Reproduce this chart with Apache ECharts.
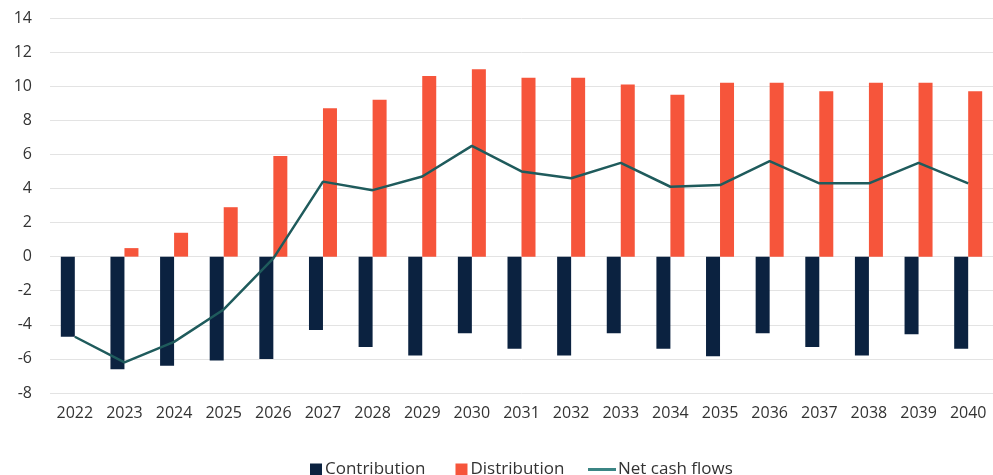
<!DOCTYPE html>
<html>
<head>
<meta charset="utf-8">
<script src="https://cdn.jsdelivr.net/npm/echarts@6/dist/echarts.min.js"></script>
<style>
  html, body { margin: 0; padding: 0; background: #fff; }
  #chart { width: 993px; height: 475px; }
</style>
</head>
<body>
<div id="chart"></div>
<script>
// Annual fund cash flows, 2022-2040
const years = ['2022','2023','2024','2025','2026','2027','2028','2029','2030','2031',
               '2032','2033','2034','2035','2036','2037','2038','2039','2040'];
const contribution = [-4.7, -6.6, -6.4, -6.1, -6.0, -4.3, -5.3, -5.8, -4.5, -5.4,
                      -5.8, -4.5, -5.4, -5.85, -4.5, -5.3, -5.8, -4.55, -5.4];
const distribution = [0, 0.5, 1.4, 2.9, 5.9, 8.7, 9.2, 10.6, 11.0, 10.5,
                      10.5, 10.1, 9.5, 10.2, 10.2, 9.7, 10.2, 10.2, 9.7];
const netCashFlows = [-4.7, -6.2, -5.0, -3.1, -0.1, 4.4, 3.9, 4.7, 6.5, 5.0,
                      4.6, 5.5, 4.1, 4.2, 5.6, 4.3, 4.3, 5.5, 4.3];

const NAVY = '#0b2240';
const CORAL = '#f6553b';
const TEAL = '#1f5b5c';
const FONT = '"Open Sans", "Noto Sans", sans-serif';

const chart = echarts.init(document.getElementById('chart'), null, { renderer: 'canvas' });
chart.setOption({
  animation: false,
  textStyle: { fontFamily: FONT },
  grid: { left: 50, top: 18, width: 945, height: 375, containLabel: false },
  legend: [
    {
      data: ['Contribution', 'Distribution'],
      left: 305, top: 456,
      itemWidth: 12, itemHeight: 12, itemGap: 30,
      icon: 'rect',
      textStyle: { fontFamily: FONT, fontSize: 17, color: '#333', padding: [0, 0, 0, -2] }
    },
    {
      data: [{ name: 'Net cash flows', icon: 'rect', itemStyle: { color: '#3b8584' } }],
      left: 583, top: 456,
      itemWidth: 28, itemHeight: 3,
      textStyle: { fontFamily: FONT, fontSize: 17, color: '#333', padding: [0, 0, 0, -3] }
    }
  ],
  xAxis: {
    type: 'category',
    data: years,
    axisLine: { show: false },
    axisTick: { show: false },
    axisLabel: { fontFamily: FONT, fontSize: 16, color: '#333', margin: 12 }
  },
  yAxis: {
    type: 'value',
    min: -8, max: 14, interval: 2,
    axisLine: { show: false },
    axisTick: { show: false },
    axisLabel: { fontFamily: FONT, fontSize: 16, color: '#333', margin: 18 },
    splitLine: { lineStyle: { color: '#e3e3e3', width: 1 } }
  },
  series: [
    {
      name: 'Contribution', type: 'bar', data: contribution,
      barWidth: 14, barGap: '0%',
      itemStyle: { color: NAVY }
    },
    {
      name: 'Distribution', type: 'bar', data: distribution,
      barWidth: 14,
      itemStyle: { color: CORAL }
    },
    {
      name: 'Net cash flows', type: 'line', data: netCashFlows,
      symbol: 'none', smooth: false,
      lineStyle: { color: TEAL, width: 2.5 },
      itemStyle: { color: TEAL },
      z: 5
    }
  ]
});
</script>
</body>
</html>
